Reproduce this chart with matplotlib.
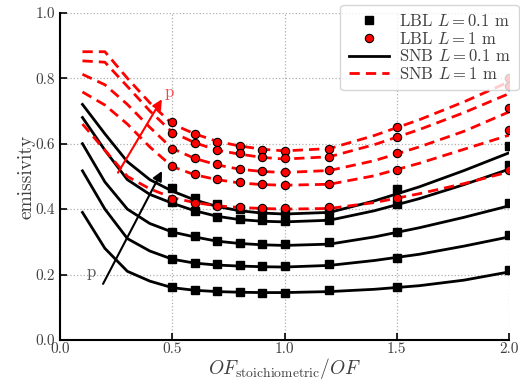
import matplotlib
matplotlib.use("Agg")
import matplotlib.pyplot as plt

plt.rcParams['font.family'] = 'serif'
plt.rcParams['font.serif'] = ['cmr10', 'DejaVu Serif']
plt.rcParams['mathtext.fontset'] = 'cm'
plt.rcParams['axes.formatter.use_mathtext'] = True

TEXT = '#404040'

# x positions
x_lbl = [0.5, 0.6, 0.7, 0.8, 0.9, 1.0, 1.2, 1.5, 2.0]
x_snb = [0.1, 0.2, 0.3, 0.4, 0.5, 0.6, 0.7, 0.8, 0.9, 1.0, 1.2, 1.4, 1.6, 1.8, 2.0]

# LBL, L = 0.1 m (five pressures)
lbl_short_1 = [0.466, 0.434, 0.415, 0.400, 0.393, 0.390, 0.395, 0.460, 0.592]
lbl_short_2 = [0.422, 0.394, 0.376, 0.369, 0.366, 0.363, 0.368, 0.417, 0.534]
lbl_short_3 = [0.330, 0.317, 0.303, 0.295, 0.293, 0.292, 0.300, 0.330, 0.420]
lbl_short_4 = [0.247, 0.235, 0.231, 0.228, 0.226, 0.225, 0.231, 0.251, 0.322]
lbl_short_5 = [0.163, 0.154, 0.149, 0.146, 0.145, 0.145, 0.152, 0.162, 0.213]

# LBL, L = 1 m
lbl_long_1 = [0.665, 0.631, 0.606, 0.593, 0.582, 0.577, 0.585, 0.651, 0.800]
lbl_long_2 = [0.634, 0.602, 0.580, 0.570, 0.560, 0.555, 0.560, 0.621, 0.775]
lbl_long_3 = [0.583, 0.555, 0.537, 0.524, 0.517, 0.514, 0.521, 0.570, 0.709]
lbl_long_4 = [0.531, 0.507, 0.491, 0.483, 0.478, 0.475, 0.478, 0.521, 0.641]
lbl_long_5 = [0.432, 0.419, 0.409, 0.407, 0.404, 0.402, 0.407, 0.434, 0.521]

# SNB, L = 0.1 m
snb_short_1 = [0.720, 0.630, 0.545, 0.490, 0.455, 0.428, 0.408, 0.395, 0.388, 0.385, 0.390, 0.425, 0.468, 0.518, 0.572]
snb_short_2 = [0.680, 0.580, 0.490, 0.445, 0.418, 0.395, 0.378, 0.368, 0.363, 0.361, 0.366, 0.395, 0.432, 0.475, 0.522]
snb_short_3 = [0.600, 0.483, 0.400, 0.356, 0.330, 0.315, 0.302, 0.295, 0.291, 0.289, 0.293, 0.315, 0.343, 0.375, 0.410]
snb_short_4 = [0.517, 0.400, 0.310, 0.272, 0.247, 0.235, 0.229, 0.226, 0.224, 0.223, 0.228, 0.243, 0.262, 0.287, 0.315]
snb_short_5 = [0.390, 0.280, 0.210, 0.180, 0.160, 0.152, 0.148, 0.146, 0.145, 0.145, 0.148, 0.155, 0.166, 0.183, 0.208]

# SNB, L = 1 m
snb_long_1 = [0.881, 0.881, 0.800, 0.725, 0.660, 0.630, 0.607, 0.593, 0.583, 0.578, 0.585, 0.625, 0.673, 0.728, 0.789]
snb_long_2 = [0.853, 0.849, 0.775, 0.700, 0.635, 0.603, 0.580, 0.568, 0.558, 0.553, 0.560, 0.597, 0.643, 0.695, 0.753]
snb_long_3 = [0.812, 0.780, 0.720, 0.650, 0.585, 0.555, 0.535, 0.522, 0.515, 0.512, 0.518, 0.548, 0.590, 0.638, 0.697]
snb_long_4 = [0.758, 0.718, 0.660, 0.590, 0.530, 0.505, 0.490, 0.480, 0.475, 0.473, 0.476, 0.502, 0.540, 0.583, 0.626]
snb_long_5 = [0.660, 0.580, 0.500, 0.462, 0.435, 0.420, 0.410, 0.405, 0.402, 0.400, 0.402, 0.420, 0.447, 0.478, 0.514]

lbl_short = [lbl_short_1, lbl_short_2, lbl_short_3, lbl_short_4, lbl_short_5]
lbl_long = [lbl_long_1, lbl_long_2, lbl_long_3, lbl_long_4, lbl_long_5]
snb_short = [snb_short_1, snb_short_2, snb_short_3, snb_short_4, snb_short_5]
snb_long = [snb_long_1, snb_long_2, snb_long_3, snb_long_4, snb_long_5]

fig = plt.figure(figsize=(5.2, 3.87), dpi=100)
ax = fig.add_axes([0.1154, 0.1214, 0.8635, 0.8456])

for i, y in enumerate(snb_short):
    ax.plot(x_snb, y, color='black', lw=2, zorder=2,
            label=r'SNB $L=0.1$ m' if i == 0 else None)
for i, y in enumerate(snb_long):
    ax.plot(x_snb, y, color='red', lw=2, ls='--', dashes=(3.7, 2.2), zorder=2,
            label=r'SNB $L=1$ m' if i == 0 else None)
for i, y in enumerate(lbl_short):
    ax.plot(x_lbl, y, ls='none', marker='s', ms=6, color='black', zorder=3,
            label=r'LBL $L=0.1$ m' if i == 0 else None)
for i, y in enumerate(lbl_long):
    ax.plot(x_lbl, y, ls='none', marker='o', ms=6, mfc='red', mec='black', mew=0.8, zorder=3,
            label=r'LBL $L=1$ m' if i == 0 else None)

# pressure arrows
ax.annotate('', xy=(0.46, 0.743), xytext=(0.252, 0.504),
            arrowprops=dict(arrowstyle='-|>', color='red', lw=1.5, mutation_scale=14))
ax.text(0.465, 0.757, 'p', color='#f04848', fontsize=12, ha='left', va='center')
ax.annotate('', xy=(0.46, 0.524), xytext=(0.186, 0.164),
            arrowprops=dict(arrowstyle='-|>', color='black', lw=1.5, mutation_scale=14))
ax.text(0.12, 0.207, 'p', color='#555555', fontsize=12, ha='left', va='center')

ax.set_xlim(0, 2)
ax.set_ylim(0, 1)
ax.set_xticks([0.0, 0.5, 1.0, 1.5, 2.0])
ax.set_yticks([0.0, 0.2, 0.4, 0.6, 0.8, 1.0])
ax.xaxis.set_major_formatter(matplotlib.ticker.FormatStrFormatter('%.1f'))
ax.yaxis.set_major_formatter(matplotlib.ticker.FormatStrFormatter('%.1f'))
ax.tick_params(direction='in', length=5, width=1.2, labelsize=11, colors='black', labelcolor=TEXT)
ax.tick_params(axis='x', pad=1.5)
ax.grid(True, ls=':', color='#b0b0b0', lw=0.9)
ax.spines['top'].set_visible(False)
ax.spines['right'].set_visible(False)
ax.spines['left'].set_linewidth(1.5)
ax.spines['bottom'].set_linewidth(1.5)

ax.set_xlabel(r'$OF_{\rm stoichiometric}/OF$', fontsize=14, color=TEXT, labelpad=0)
ax.set_ylabel('emissivity', fontsize=14, color=TEXT, labelpad=0)

handles, labels = ax.get_legend_handles_labels()
order = [labels.index(r'LBL $L=0.1$ m'), labels.index(r'LBL $L=1$ m'),
         labels.index(r'SNB $L=0.1$ m'), labels.index(r'SNB $L=1$ m')]
leg = ax.legend([handles[k] for k in order], [labels[k] for k in order],
                loc='upper right', bbox_to_anchor=(1.04, 1.05), fontsize=12,
                handlelength=2.4, borderpad=0.5, labelspacing=0.1, handletextpad=0.6,
                framealpha=0.8, edgecolor='#cccccc', fancybox=True)
for t in leg.get_texts():
    t.set_color(TEXT)

fig.savefig('out.png', dpi=100)
